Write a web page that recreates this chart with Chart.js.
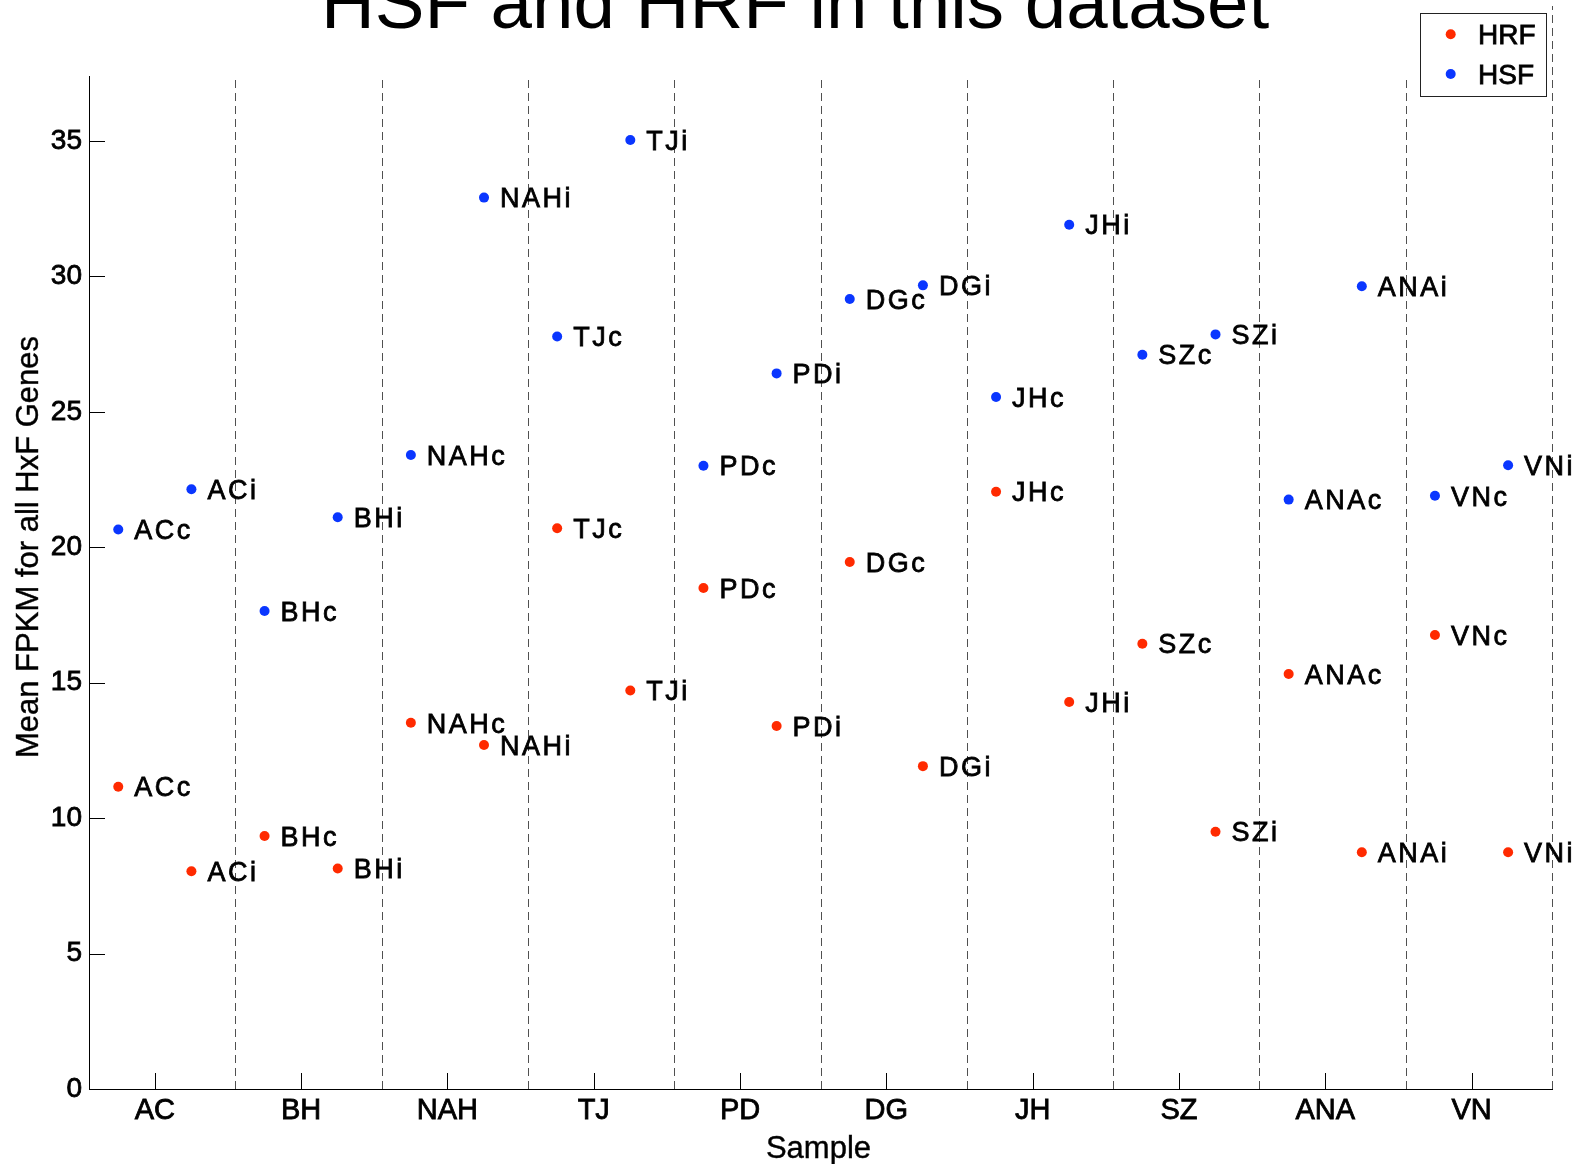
<!DOCTYPE html>
<html>
<head>
<meta charset="utf-8">
<script src="https://cdn.jsdelivr.net/npm/chart.js@4.4.0/dist/chart.umd.min.js"></script>
<style>
  html, body { margin: 0; padding: 0; background: #fff; overflow: hidden; }
  canvas { display: block; }
</style>
</head>
<body>
<canvas id="chart" width="1578" height="1164"></canvas>
<script>
// Sample groups along the x axis
const categories = ['AC', 'BH', 'NAH', 'TJ', 'PD', 'DG', 'JH', 'SZ', 'ANA', 'VN'];

// Mean FPKM, "c" (contralateral) and "i" (ipsilateral) per sample group
const hsfC = [20.66, 17.65, 23.41, 27.78, 23.01, 29.17, 25.55, 27.11, 21.76, 21.90];
const hsfI = [22.14, 21.11, 32.91, 35.04, 26.42, 29.67, 31.91, 27.86, 29.64, 23.03];
const hrfC = [11.16, 9.34, 13.52, 20.70, 18.50, 19.46, 22.05, 16.44, 15.32, 16.76];
const hrfI = [8.04, 8.14, 12.70, 14.71, 13.40, 11.92, 14.29, 9.50, 8.74, 8.74];

const yTicks = [0, 5, 10, 15, 20, 25, 30, 35];
const suffixes = ['c', 'i'];

const titleText = 'HSF and HRF in this dataset';
const xTitle = 'Sample';
const yTitle = 'Mean FPKM for all HxF Genes';

const RED = '#ff2a00';
const BLUE = '#0a36ff';
const FONT = '"Liberation Sans", Arial, Helvetica, sans-serif';
const HEAVY = 0.8; // extra stroke that gives the small labels their weight

// c sits left of the group centre, i to the right
function buildPoints(cVals, iVals) {
  const pts = [];
  categories.forEach((cat, k) => {
    pts.push({ x: k + 1 - 0.25, y: cVals[k], label: cat + suffixes[0] });
    pts.push({ x: k + 1 + 0.25, y: iVals[k], label: cat + suffixes[1] });
  });
  return pts;
}

function heavyText(ctx, text, x, y) {
  ctx.fillText(text, x, y);
  ctx.strokeText(text, x, y);
}

const decor = {
  id: 'decor',
  beforeDatasetsDraw(chart) {
    const { ctx, chartArea: a, scales: { x, y } } = chart;
    ctx.save();
    // dashed separators between sample groups
    ctx.strokeStyle = '#505050';
    ctx.lineWidth = 1;
    ctx.setLineDash([8, 5]);
    categories.forEach((c, k) => {
      const px = Math.round(x.getPixelForValue(k + 1.55)) + 0.5;
      const last = k === categories.length - 1;
      ctx.beginPath();
      ctx.moveTo(px, a.bottom);
      ctx.lineTo(px, last ? 6 : a.top);
      ctx.stroke();
    });
    ctx.setLineDash([]);
    // inward tick marks
    ctx.strokeStyle = '#000';
    yTicks.forEach(v => {
      const py = Math.round(y.getPixelForValue(v)) + 0.5;
      ctx.beginPath();
      ctx.moveTo(a.left, py);
      ctx.lineTo(a.left + 16, py);
      ctx.stroke();
    });
    categories.forEach((c, k) => {
      const px = Math.round(x.getPixelForValue(k + 1)) + 0.5;
      ctx.beginPath();
      ctx.moveTo(px, a.bottom);
      ctx.lineTo(px, a.bottom - 16);
      ctx.stroke();
    });
    ctx.restore();
  },
  afterDatasetsDraw(chart) {
    const { ctx } = chart;
    ctx.save();
    ctx.fillStyle = '#000';
    ctx.strokeStyle = '#000';
    ctx.lineWidth = HEAVY;
    ctx.font = '27px ' + FONT;
    ctx.textAlign = 'left';
    ctx.textBaseline = 'alphabetic';
    ctx.letterSpacing = '2.5px';
    chart.data.datasets.forEach((ds, di) => {
      const meta = chart.getDatasetMeta(di);
      meta.data.forEach((el, j) => {
        heavyText(ctx, ds.data[j].label, el.x + 16, el.y + 9.7);
      });
    });
    ctx.letterSpacing = '0px';
    ctx.restore();
  },
  afterDraw(chart) {
    const { ctx, chartArea: a } = chart;
    ctx.save();
    ctx.fillStyle = '#000';
    // title
    ctx.font = '74.5px ' + FONT;
    ctx.textAlign = 'center';
    ctx.textBaseline = 'alphabetic';
    ctx.fillText(titleText, 795, 28);
    // axis titles
    ctx.font = '31px ' + FONT;
    ctx.strokeStyle = '#000';
    ctx.lineWidth = 0.4;
    heavyText(ctx, xTitle, (a.left + a.right) / 2 - 2, 1158);
    ctx.save();
    ctx.translate(38, 547);
    ctx.rotate(-Math.PI / 2);
    heavyText(ctx, yTitle, 0, 0);
    ctx.restore();
    // legend box
    const bx = 1420.5, by = 13.5, bw = 126, bh = 83;
    ctx.fillStyle = '#fff';
    ctx.fillRect(bx, by, bw, bh);
    ctx.strokeStyle = '#222';
    ctx.lineWidth = 1;
    ctx.strokeRect(bx, by, bw, bh);
    ctx.font = '28px ' + FONT;
    ctx.textAlign = 'left';
    ctx.strokeStyle = '#000';
    ctx.lineWidth = HEAVY;
    chart.data.datasets.forEach((ds, di) => {
      const cy = 34.3 + di * 39.7;
      ctx.fillStyle = ds.backgroundColor;
      ctx.beginPath();
      ctx.arc(1450.7, cy, 5, 0, Math.PI * 2);
      ctx.fill();
      ctx.fillStyle = '#000';
      heavyText(ctx, ds.label, 1478, cy + 10);
    });
    ctx.restore();
  }
};

new Chart(document.getElementById('chart').getContext('2d'), {
  type: 'scatter',
  data: {
    datasets: [
      { label: 'HRF', data: buildPoints(hrfC, hrfI), backgroundColor: RED, borderColor: RED,
        pointRadius: 5, pointHoverRadius: 5, pointBorderWidth: 0 },
      { label: 'HSF', data: buildPoints(hsfC, hsfI), backgroundColor: BLUE, borderColor: BLUE,
        pointRadius: 5, pointHoverRadius: 5, pointBorderWidth: 0 }
    ]
  },
  options: {
    responsive: false,
    animation: false,
    devicePixelRatio: 1,
    layout: { padding: { left: 0, top: 76, right: 26, bottom: 0 } },
    plugins: {
      legend: { display: false },
      title: { display: false },
      tooltip: { enabled: false }
    },
    scales: {
      x: {
        type: 'linear',
        min: 0.55,
        max: 10.55,
        afterBuildTicks: s => { s.ticks = categories.map((c, k) => ({ value: k + 1 })); },
        afterFit: s => { s.height = 75; },
        grid: { display: false, drawTicks: false },
        border: { display: true, color: '#000', width: 1 },
        ticks: {
          callback: v => categories[Math.round(v) - 1],
          font: { family: FONT, size: 29 },
          color: '#000',
          textStrokeColor: '#000',
          textStrokeWidth: HEAVY,
          padding: 5,
          maxRotation: 0,
          autoSkip: false
        }
      },
      y: {
        min: 0,
        max: 37.4,
        afterBuildTicks: s => { s.ticks = yTicks.map(v => ({ value: v })); },
        afterFit: s => { s.width = 89; },
        grid: { display: false, drawTicks: false },
        border: { display: true, color: '#000', width: 1 },
        ticks: {
          font: { family: FONT, size: 28 },
          color: '#000',
          textStrokeColor: '#000',
          textStrokeWidth: HEAVY,
          padding: 7
        }
      }
    }
  },
  plugins: [decor]
});
</script>
</body>
</html>
